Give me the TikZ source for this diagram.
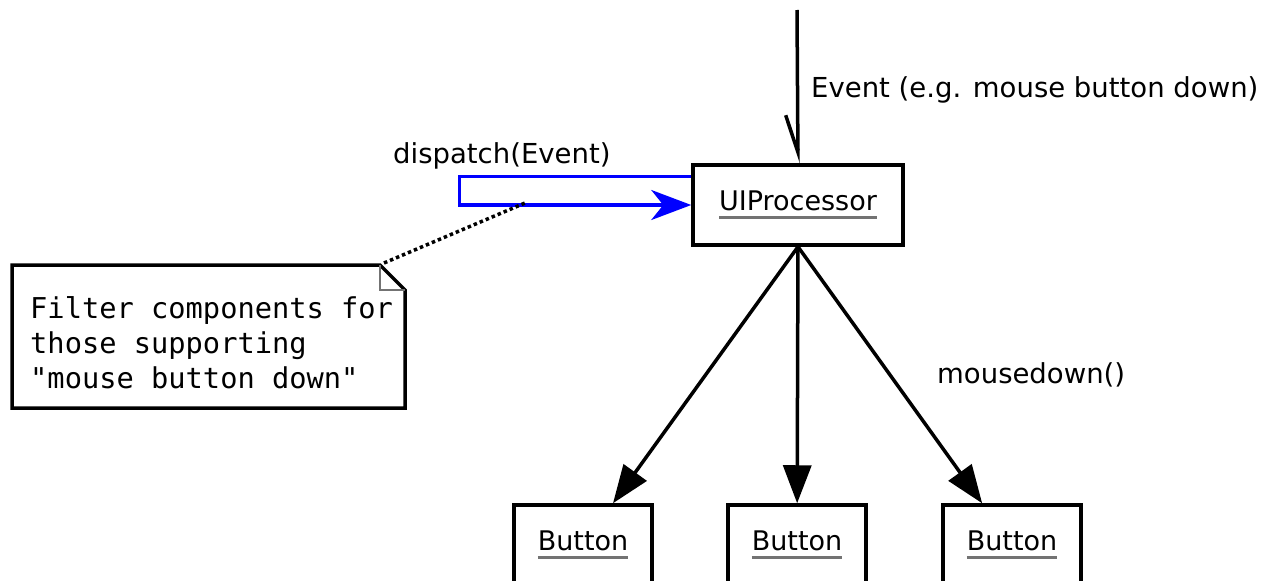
\documentclass[tikz,border=0pt]{standalone}
\usepackage{fontspec}
\setmainfont{DejaVu Sans}
\newfontfamily\notefont{DejaVu Sans Mono}
\usetikzlibrary{arrows.meta}
\definecolor{ulgray}{gray}{0.45}
\newcommand\umlname[1]{\setbox0\hbox{#1}\vtop{\copy0\nointerlineskip\kern5pt\hbox{\color{ulgray}\rule{\wd0}{3pt}}}}
\begin{document}
\begin{tikzpicture}[x=1pt,y=-1pt,
  lbl/.style={font=\fontsize{27.5}{33}\selectfont, inner sep=0pt},
  objbox/.style={draw, line width=3.5pt, fill=white, font=\fontsize{27}{32}\selectfont, inner sep=0pt},
  callarrow/.style={line width=3.5pt, -{Triangle[length=38pt,width=28pt]}},
  dispatchloop/.style={draw=blue, line width=3.5pt, -{Stealth[length=40pt,width=30pt,inset=12pt]}, color=blue},
  incoming/.style={line width=3.5pt, -{Straight Barb[harpoon,swap,length=37pt,width=24pt]}},
  anchorline/.style={line width=3.5pt, dash pattern=on 3.5pt off 3pt, line cap=butt}
]
\useasboundingbox (0,0) rectangle (1270,581);
% objects
\node[objbox, minimum width=210pt, minimum height=80pt] (ui) at (798,205) {\umlname{UIProcessor}};
\node[objbox, minimum width=138pt, minimum height=80pt] (b1) at (583,545) {\umlname{Button}};
\node[objbox, minimum width=138pt, minimum height=80pt] (b2) at (797,545) {\umlname{Button}};
\node[objbox, minimum width=138pt, minimum height=80pt] (b3) at (1012,545) {\umlname{Button}};
% incoming event
\coordinate (src) at (797,10);
\draw[incoming] (src) -- (ui.north);
\node[lbl, anchor=base west] (evlbl) at (811,97) {Event (e.g. mouse button down)};
% dispatch self loop
\draw[dispatchloop] (ui.north west) ++(0,13) -- ++(-232,0) |- (ui.west);
\node[lbl, anchor=base west] (displbl) at (393,163) {dispatch(Event)};
% calls to buttons
\draw[callarrow] (ui.south) -- (b1);
\draw[callarrow] (ui.south) -- (b2);
\draw[callarrow] (ui.south) -- (b3);
\node[lbl, anchor=base west] (mdlbl) at (937,383) {mousedown()};
% note
\draw[line width=3.5pt, fill=white, line join=miter] (12,265) -- (380,265) -- (405,290) -- (405,408) -- (12,408) -- cycle;
\draw[line width=1.8pt, ulgray] (380,265) -- (380,290) -- (405,290);
\node[anchor=north west, inner sep=0pt, align=left, font=\notefont\fontsize{28.7}{35}\selectfont] (note) at (30,296)
  {Filter components for\\those supporting\\"mouse button down"};
\coordinate (ear) at (384,263);
\coordinate (lp) at (525,203);
\draw[anchorline] (ear) -- (lp);
\end{tikzpicture}
\end{document}
